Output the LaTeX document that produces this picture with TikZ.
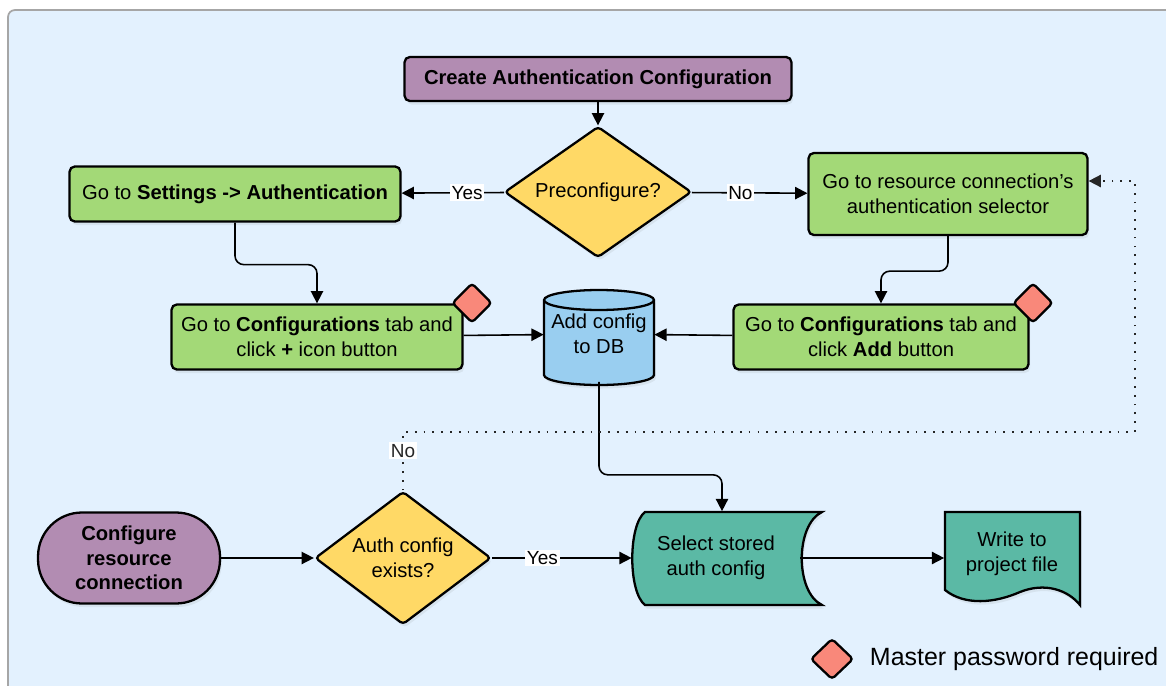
\documentclass[tikz,border=0pt]{standalone}
\usepackage{fontspec}
\setmainfont{Liberation Sans}
\usetikzlibrary{shapes.geometric,arrows.meta,shadows,positioning}
\definecolor{bgblue}{RGB}{227,241,254}
\definecolor{authpurple}{RGB}{178,140,178}
\definecolor{stepgreen}{RGB}{163,217,119}
\definecolor{askyellow}{RGB}{255,217,102}
\definecolor{dbblue}{RGB}{153,206,240}
\definecolor{outteal}{RGB}{91,185,165}
\definecolor{pwred}{RGB}{249,136,122}
\begin{document}
\begin{tikzpicture}[x=0.02cm,y=-0.02cm,
 font=\fontsize{11.5}{14}\selectfont,
 shade/.style={drop shadow={opacity=0.12,shadow xshift=1pt,shadow yshift=-2pt}},
 stepbox/.style={draw,line width=1.3pt,rounded corners=3pt,fill=stepgreen,align=center,inner sep=0pt,shade},
 ask/.style={diamond,draw,line width=1.3pt,rounded corners=2pt,fill=askyellow,align=center,inner sep=0pt,shade},
 arr/.style={-{Triangle[length=7pt,width=7pt]},line width=0.9pt},
 lbl/.style={fill=white,inner sep=1pt,font=\fontsize{10.8}{12}\selectfont},
 pw/.style={diamond,draw,line width=1.3pt,rounded corners=2pt,fill=pwred,minimum width=0.8cm,minimum height=0.8cm,inner sep=0pt}]
 \useasboundingbox (0,0) rectangle (1166,686);
 \draw[line width=1pt,draw=gray!70,fill=bgblue,rounded corners=4pt] (8,10) rectangle (1185,700);
 % top part
 \node[draw,line width=1.3pt,rounded corners=3pt,fill=authpurple,minimum width=7.74cm,minimum height=0.88cm,font=\fontsize{11.5}{14}\selectfont\bfseries,shade] (create) at (598,79) {Create Authentication Configuration};
 \node[ask,aspect=1.4,minimum width=3.74cm,minimum height=2.62cm] (pre) at (598,192) {Preconfigure?};
 \node[stepbox,minimum width=6.62cm,minimum height=1.1cm] (settings) at (235,194) {Go to \textbf{Settings -> Authentication}};
 \node[stepbox,minimum width=5.58cm,minimum height=1.64cm] (resource) at (948,194) {Go to resource connection's\\authentication selector};
 \node[stepbox,minimum width=5.82cm,minimum height=1.3cm] (plus) at (317,337) {Go to \textbf{Configurations} tab and\\click \textbf{+} icon button};
 \node[stepbox,minimum width=5.9cm,minimum height=1.3cm] (add) at (881,337) {Go to \textbf{Configurations} tab and\\click \textbf{Add} button};
 \node[pw] (pwplus) at (472,303) {};
 \node[pw] (pwadd) at (1033,303) {};
 % database
 \filldraw[line width=1.3pt,fill=dbblue,shade] (544,300) -- (544,375) arc[start angle=180,end angle=0,x radius=55,y radius=10] -- (654,300) arc[start angle=0,end angle=-180,x radius=55,y radius=10] -- cycle;
 \draw[line width=1.3pt] (544,300) arc[start angle=180,end angle=0,x radius=55,y radius=10];
 \node[minimum width=2.2cm,minimum height=1.9cm,align=center,inner sep=0pt] (db) at (599,334) {Add config\\to DB};
 % bottom part
 \node[draw,line width=1.3pt,rounded corners=0.88cm,fill=authpurple,minimum width=3.64cm,minimum height=1.82cm,align=center,font=\fontsize{11.5}{14}\selectfont\bfseries,shade] (conf) at (129,558) {Configure\\resource\\connection};
 \node[ask,aspect=1.3,minimum width=3.52cm,minimum height=2.66cm] (auth) at (403,558) {Auth config\\exists?};
 \filldraw[line width=1.3pt,fill=outteal,shade] (645,512) -- (822,512) .. controls (795,525) and (795,592) .. (822,605) -- (645,605) .. controls (628,592) and (628,525) .. (645,512) -- cycle;
 \node[minimum width=3.36cm,minimum height=1.86cm,align=center,inner sep=0pt] (sel) at (716,558) {Select stored\\auth config};
 \filldraw[line width=1.3pt,fill=outteal,shade] (945,515) -- (945,512) -- (1080,512) -- (1080,605) .. controls (1068,590) and (1045,582) .. (1020,592) .. controls (995,603) and (965,606) .. (945,590) -- cycle;
 \node[minimum width=2.7cm,minimum height=1.68cm,align=center,inner sep=0pt] (write) at (1012,554) {Write to\\project file};
 % connectors
 \draw[arr] (create) -- (pre);
 \draw[arr] (pre) -- node[lbl,pos=0.36] {Yes} (settings);
 \draw[arr] (pre) -- node[lbl,pos=0.42] {No} (resource);
 \draw[arr,rounded corners=5pt] (settings.south) -- ++(0,42) -| (plus.north);
 \draw[arr,rounded corners=5pt] (resource.south) -- ++(0,35) -| (add.north);
 \draw[arr] (plus) -- (db);
 \draw[arr] (add) -- (db);
 \draw[arr,rounded corners=5pt] (db.south) -- ++(0,93) -| ([xshift=0.12cm]sel.north);
 \draw[arr] (conf) -- (auth);
 \draw[arr] (auth) -- node[lbl,pos=0.36] {Yes} (sel);
 \draw[arr] (sel.east) -- (sel.east -| write.west);
 \coordinate (loop) at (1135,432);
 \draw[-{Triangle[length=7pt,width=7pt]},line width=1pt,dash pattern=on 1pt off 4pt,gray!30!black] (auth.north) -- node[lbl,pos=0.68] {No} (auth.north |- loop) -- (loop) |- ([yshift=0.26cm]resource.east);
 % legend
 \node[pw,minimum width=0.86cm,minimum height=0.82cm] (key) at (832,659) {};
 \node[right=0.3cm of key,font=\fontsize{14.2}{16}\selectfont,inner sep=0pt] (keytext) {Master password required};
\end{tikzpicture}
\end{document}
